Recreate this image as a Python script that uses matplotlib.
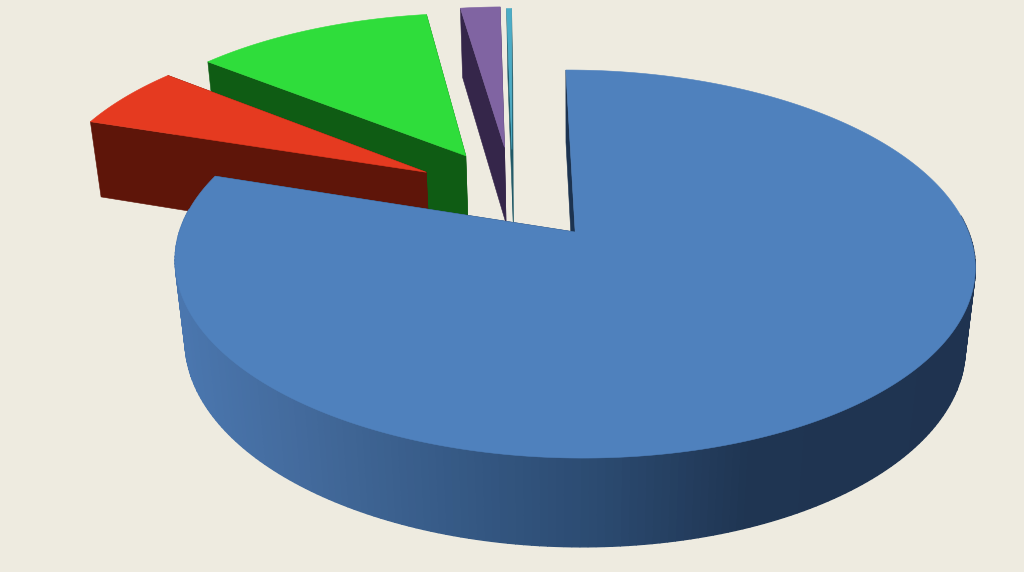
import numpy as np
import matplotlib
matplotlib.use('Agg')
import matplotlib.pyplot as plt

# shares of the pie, percent, clockwise from just left of 12 o'clock
names = ['blue', 'red', 'green', 'purple', 'teal']
shares = [80.15, 5.7, 11.9, 2.0, 0.25]
explode = [0.008, 0.508, 0.515, 0.515, 0.496]
explode_dir = [90.0, 310.0, 326.0, 339.0, 340.7]

top_colors = ['#4F81BD', '#E53A20', '#2FDD3B', '#8064A2', '#4BACC6']
side_colors = ['#1C3350', '#5E1509', '#0F5C14', '#35264A', '#1F5866']
background = '#EEEBE0'

# gradient of the blue wall, left to right on screen
wall_x = [180, 300, 450, 600, 750, 970]
wall_rgb = np.array([[74, 118, 174], [67, 106, 156], [54, 90, 134],
                     [43, 74, 112], [31, 53, 82], [31, 51, 80]]) / 255.0

start_angle = 358.5

# camera
cx, cy = 572.0, 232.0
scale_x, scale_y, scale_z = 394.6, 188.7, 82.0
persp_y, persp_z = 0.165, 0.025
shear = 0.00875


def project(x, y, z):
    # y is toward the viewer, z is down, radius of the pie is 1
    w = 1 - persp_y * y + persp_z * z
    u = scale_x * x / w
    v = (scale_y * y + scale_z * z) / w
    return cx + u, cy + v + shear * u


def rim(theta, off, z):
    # theta in degrees clockwise from 12 o'clock
    t = np.radians(theta)
    return project(off[0] + np.sin(t), off[1] - np.cos(t), z)


def poly(ax, u, v, color, zorder, lw=0.4):
    ax.fill(u, v, facecolor=color, edgecolor=color, linewidth=lw, zorder=zorder)


fig = plt.figure(figsize=(10.24, 5.72), dpi=100, facecolor=background)
ax = fig.add_axes([0, 0, 1, 1])
ax.set_xlim(0, 1024)
ax.set_ylim(572, 0)
ax.axis('off')

# start and end angle of every wedge
spans = np.array(shares) / sum(shares) * 360.0
ends = start_angle + np.cumsum(spans)
starts = ends - spans

# back to front: teal, purple, green, red, blue
order = [4, 3, 2, 1, 0]
for rank, i in enumerate(order):
    base = rank * 10 + 1
    d = np.radians(explode_dir[i])
    off = (explode[i] * np.sin(d), -explode[i] * np.cos(d))
    theta = np.linspace(starts[i], ends[i], max(int(spans[i]), 8))

    # outer wall, cut in facets so the blue one can carry its gradient
    for a, b in zip(theta[:-1], theta[1:]):
        # the back half is hidden behind the top anyway
        if np.cos(np.radians((a + b) / 2)) > 0.1:
            continue
        u0, v0 = rim(a, off, 0)
        u1, v1 = rim(b, off, 0)
        u2, v2 = rim(b, off, 1)
        u3, v3 = rim(a, off, 1)
        if i == 0:
            mid = (u0 + u1) / 2
            col = [np.interp(mid, wall_x, wall_rgb[:, k]) for k in range(3)]
        else:
            col = side_colors[i]
        poly(ax, [u0, u1, u2, u3], [v0, v1, v2, v3], col, base, lw=1.0)

    # the two cut faces
    ax0, ay0 = project(off[0], off[1], 0)
    ax1, ay1 = project(off[0], off[1], 1)
    for a in [ends[i], starts[i]]:
        u0, v0 = rim(a, off, 0)
        u1, v1 = rim(a, off, 1)
        poly(ax, [ax0, u0, u1, ax1], [ay0, v0, v1, ay1], side_colors[i], base + 1)

    # top of the wedge
    u, v = rim(theta, off, 0)
    poly(ax, np.r_[ax0, u], np.r_[ay0, v], top_colors[i], base + 2)

fig.savefig('out.png', dpi=100, facecolor=background)
